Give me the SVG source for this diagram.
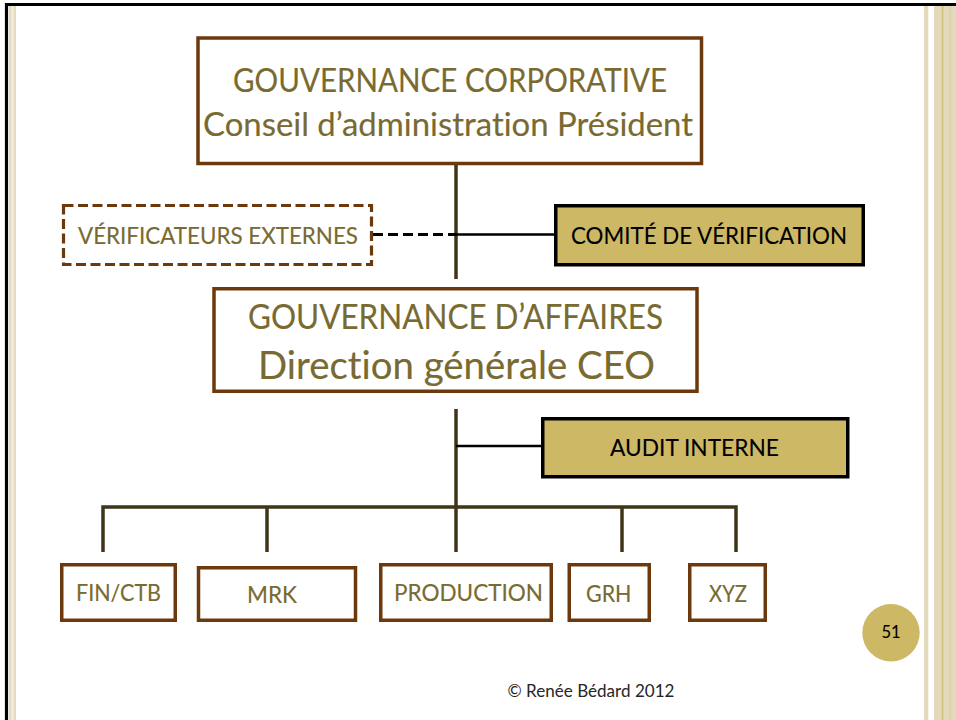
<svg xmlns="http://www.w3.org/2000/svg" width="956" height="720" viewBox="0 0 956 720">
<style>
  text{font-variant-ligatures:none;font-feature-settings:"liga" 0,"dlig" 0}
  .box{fill:#ffffff;stroke:#6c390d;stroke-width:3.5}
  .dbox{fill:#ffffff;stroke:#6c390d;stroke-width:3.2;stroke-dasharray:10 4.5}
  .gold{fill:#cdb865;stroke:#000000;stroke-width:3.5}
  .t{font-family:Lato,"Liberation Sans",sans-serif;fill:#786a30;stroke:#786a30;stroke-width:0.15}
  .k{font-family:Lato,"Liberation Sans",sans-serif;fill:#000000;stroke:#000000;stroke-width:0.1}
  .conn{fill:none;stroke:#3f3519;stroke-width:3.5}
  .thin{fill:none;stroke:#000000;stroke-width:2.5}
  .dash{fill:none;stroke:#000000;stroke-width:3;stroke-dasharray:10 5}
</style>
<rect width="956" height="720" fill="#ffffff"/>
<g id="frame">
  <rect x="9" y="6" width="7" height="714" fill="#e5dbbe"/>
  <rect x="11.5" y="6" width="2" height="714" fill="#f3efe2"/>
  <rect x="924" y="6" width="4.3" height="714" fill="#e4d9bb"/>
  <rect x="934" y="6" width="22" height="714" fill="#e4d9bb"/>
  <rect x="941.8" y="6" width="1.5" height="714" fill="#d3c07c"/>
  <rect x="949.3" y="6" width="1.5" height="714" fill="#ddd0a8"/>
  <path d="M6.5,720 V4.5 H956" fill="none" stroke="#000000" stroke-width="3.2"/>
</g>
<g id="connectors">
  <line class="conn" x1="456" y1="165" x2="456" y2="279"/>
  <line class="dash" x1="373" y1="234.5" x2="456" y2="234.5"/>
  <line class="thin" x1="456" y1="234.5" x2="555" y2="234.5"/>
  <line class="conn" x1="456" y1="409" x2="456" y2="552"/>
  <line class="thin" x1="456" y1="446" x2="541" y2="446"/>
  <path class="conn" d="M103,552 V507 H736 V552"/>
  <line class="conn" x1="267" y1="507" x2="267" y2="552"/>
  <line class="conn" x1="622" y1="507" x2="622" y2="552"/>
</g>
<g id="gouvernance-corporative">
  <rect class="box" x="198" y="38" width="503.5" height="125.5"/>
  <text class="t" x="233" y="92" font-size="32" textLength="434" lengthAdjust="spacingAndGlyphs">GOUVERNANCE CORPORATIVE</text>
  <text class="t" x="203" y="135.5" font-size="32" textLength="490" lengthAdjust="spacingAndGlyphs">Conseil d’administration Président</text>
</g>
<g id="verificateurs-externes">
  <rect class="dbox" x="63.5" y="205.5" width="308" height="59"/>
  <text class="t" x="78" y="244" font-size="24" textLength="280" lengthAdjust="spacingAndGlyphs">VÉRIFICATEURS EXTERNES</text>
</g>
<g id="comite-verification">
  <rect class="gold" x="555.75" y="205.75" width="307.5" height="59"/>
  <text class="k" x="571" y="244" font-size="24" textLength="276" lengthAdjust="spacingAndGlyphs">COMITÉ DE VÉRIFICATION</text>
</g>
<g id="gouvernance-affaires">
  <rect class="box" x="214" y="288.75" width="483" height="102.5"/>
  <text class="t" x="248" y="329" font-size="34" textLength="415" lengthAdjust="spacingAndGlyphs">GOUVERNANCE D’AFFAIRES</text>
  <text class="t" x="258" y="379" font-size="39" textLength="397" lengthAdjust="spacingAndGlyphs">Direction générale CEO</text>
</g>
<g id="audit-interne">
  <rect class="gold" x="542.75" y="418.75" width="305" height="58"/>
  <text class="k" x="610" y="455.5" font-size="24" textLength="169" lengthAdjust="spacingAndGlyphs">AUDIT INTERNE</text>
</g>
<g id="fin-ctb">
  <rect class="box" x="61.75" y="564.75" width="113.5" height="55.5"/>
  <text class="t" x="76" y="601" font-size="24" textLength="85" lengthAdjust="spacingAndGlyphs">FIN/CTB</text>
</g>
<g id="mrk">
  <rect class="box" x="198.5" y="567.75" width="157" height="52.5"/>
  <text class="t" x="247" y="603" font-size="24" textLength="50" lengthAdjust="spacingAndGlyphs">MRK</text>
</g>
<g id="production">
  <rect class="box" x="380.75" y="564.75" width="170.5" height="55.5"/>
  <text class="t" x="394" y="601" font-size="24" textLength="149" lengthAdjust="spacingAndGlyphs">PRODUCTION</text>
</g>
<g id="grh">
  <rect class="box" x="569.25" y="564.75" width="80" height="55.5"/>
  <text class="t" x="586" y="601.5" font-size="24" textLength="45.5" lengthAdjust="spacingAndGlyphs">GRH</text>
</g>
<g id="xyz">
  <rect class="box" x="689.75" y="564.75" width="75.5" height="55.5"/>
  <text class="t" x="709" y="601.5" font-size="24" textLength="38" lengthAdjust="spacingAndGlyphs">XYZ</text>
</g>
<g id="page-number">
  <circle cx="891" cy="632.7" r="28.7" fill="#cdb865"/>
  <text class="k" x="891" y="638.3" font-size="16.5" text-anchor="middle">51</text>
</g>
<g id="copyright">
  <text x="507.5" y="697.3" font-family="Lato,'Liberation Sans',sans-serif" font-size="16.5" fill="#262626" textLength="167" lengthAdjust="spacingAndGlyphs">© Renée Bédard 2012</text>
</g>
</svg>
